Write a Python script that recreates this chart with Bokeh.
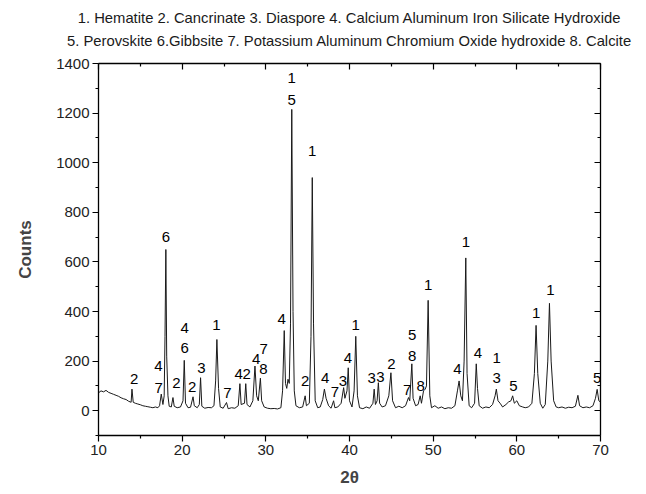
from bokeh.plotting import figure
from bokeh.models import Range1d, LinearAxis, Title, ColumnDataSource, FixedTicker
from bokeh.core.properties import value
from bokeh.embed import file_html
from bokeh.resources import INLINE

# ---- data (2theta, counts) ----
two_theta = [
    10.0, 10.3, 10.6, 10.9, 11.2, 11.5, 11.8, 12.1, 12.4, 12.7, 13.0, 13.3, 13.6, 13.9,
    14.0, 14.15, 14.4, 14.7, 15.0, 15.3, 15.6, 15.9, 16.2, 16.5, 16.8, 17.1, 17.3,
    17.5, 17.7, 17.85, 17.95, 18.05, 18.15, 18.3, 18.45, 18.7, 18.9, 19.05, 19.4, 19.8,
    20.1, 20.25, 20.4, 20.7, 21.0, 21.3, 21.45, 21.8, 22.05, 22.2, 22.35, 22.7, 23.1,
    23.5, 23.8, 24.0, 24.15, 24.35, 24.55, 24.9, 25.3, 25.5, 25.9, 26.3, 26.7, 26.9,
    27.05, 27.45, 27.6, 27.75, 28.1, 28.45, 28.7, 28.9, 29.1, 29.35, 29.5, 29.8, 30.2,
    30.6, 31.0, 31.4, 31.8, 32.0, 32.2, 32.35, 32.5, 32.65, 32.8, 32.95, 33.1, 33.25,
    33.4, 33.6, 34.0, 34.4, 34.7, 34.85, 35.2, 35.4, 35.55, 35.7, 35.9, 36.2, 36.5,
    36.8, 37.0, 37.2, 37.5, 37.8, 38.1, 38.25, 38.6, 39.0, 39.3, 39.45, 39.7, 39.85,
    40.0, 40.3, 40.55, 40.75, 40.95, 41.2, 41.6, 42.0, 42.4, 42.8, 42.95, 43.1, 43.3,
    43.45, 43.6, 43.9, 44.3, 44.7, 44.95, 45.15, 45.5, 45.9, 46.3, 46.7, 47.05, 47.2,
    47.45, 47.6, 47.9, 48.2, 48.45, 48.6, 48.85, 49.05, 49.2, 49.4, 49.6, 49.8, 50.2,
    50.6, 51.0, 51.4, 51.8, 52.2, 52.6, 52.9, 53.1, 53.3, 53.5, 53.7, 53.9, 54.05,
    54.3, 54.6, 54.95, 55.15, 55.3, 55.5, 55.9, 56.3, 56.7, 57.1, 57.4, 57.55, 57.75,
    58.0, 58.3, 58.7, 59.0, 59.3, 59.5, 59.7, 60.0, 60.3, 60.7, 61.0, 61.4, 61.8,
    62.1, 62.3, 62.5, 62.8, 63.1, 63.4, 63.7, 63.9, 64.1, 64.4, 64.7, 65.0, 65.4,
    65.8, 66.2, 66.6, 67.0, 67.3, 67.5, 67.9, 68.3, 68.7, 69.1, 69.4, 69.6, 69.8, 70.0,
]
counts = [
    72, 80, 76, 82, 74, 70, 66, 62, 58, 52, 48, 45, 38, 34,
    87, 34, 30, 27, 24, 20, 18, 16, 14, 12, 15, 12, 20,
    67, 25, 60, 300, 650, 220, 60, 18, 15, 53, 18, 12, 15,
    40, 203, 30, 12, 14, 56, 20, 12, 25, 133, 18, 10, 13,
    12, 20, 120, 287, 90, 15, 10, 33, 8, 12, 10, 20, 109,
    25, 30, 109, 25, 15, 40, 180, 60, 40, 131, 40, 15, 10,
    8, 9, 7, 12, 80, 323, 110, 90, 127, 110, 350, 1215, 400,
    80, 20, 12, 15, 60, 20, 30, 300, 940, 350, 40, 12, 15,
    45, 87, 50, 20, 10, 40, 12, 15, 30, 93, 50, 80, 173,
    40, 15, 80, 300, 60, 12, 8, 15, 10, 30, 87, 25, 40,
    113, 30, 15, 20, 60, 153, 40, 12, 18, 12, 20, 53, 40,
    189, 50, 20, 25, 60, 30, 80, 87, 100, 445, 60, 12, 20,
    10, 15, 8, 12, 10, 20, 80, 120, 60, 40, 200, 616, 150,
    20, 12, 30, 189, 90, 20, 10, 15, 12, 25, 60, 87, 40,
    30, 15, 25, 35, 40, 60, 30, 40, 20, 15, 12, 15, 30,
    150, 344, 150, 30, 10, 25, 200, 433, 200, 40, 15, 12, 15,
    10, 14, 12, 18, 62, 20, 12, 15, 12, 20, 50, 86, 40, 35,
]

# phase labels: position (2theta, counts) and phase number
label_x = [14.25, 17.15, 17.2, 18.05, 19.3, 20.3, 20.3, 21.2, 22.3, 24.1, 25.4, 26.75,
           27.7, 28.85, 29.75, 29.7, 31.9, 33.1, 33.1, 35.55, 34.7, 37.1, 38.25, 39.2,
           39.8, 40.75, 42.65, 43.7, 45.0, 47.5, 47.5, 46.9, 48.5, 49.4, 52.9, 53.9,
           55.35, 57.6, 57.6, 59.6, 62.3, 64.0, 69.6]
label_y = [129, 180, 93, 702, 113, 333, 253, 96, 173, 347, 73, 149,
           149, 207, 249, 167, 371, 1343, 1253, 1049, 120, 131, 77, 120,
           211, 347, 133, 136, 189, 304, 220, 83, 100, 506, 167, 682,
           233, 211, 131, 100, 393, 486, 130]
label_text = ["2", "4", "7", "6", "2", "4", "6", "2", "3", "1", "7", "4",
              "2", "4", "7", "8", "4", "1", "5", "1", "2", "4", "7", "3",
              "4", "1", "3", "3", "2", "5", "8", "7", "8", "1", "4", "1",
              "4", "1", "3", "5", "1", "1", "5"]

title_line1 = "1. Hematite 2. Cancrinate 3. Diaspore 4. Calcium Aluminum Iron Silicate Hydroxide"
title_line2 = "5. Perovskite 6.Gibbsite 7. Potassium Aluminum Chromium Oxide hydroxide 8. Calcite"

x_ticks = [10, 20, 30, 40, 50, 60, 70]
y_ticks = [0, 200, 400, 600, 800, 1000, 1200, 1400]
x_minor = [15, 25, 35, 45, 55, 65]
y_minor = [-100, 100, 300, 500, 700, 900, 1100, 1300]

FONT = "Liberation Sans"

p = figure(width=646, height=494, output_backend="svg", toolbar_location=None,
           x_range=Range1d(10, 70), y_range=Range1d(-100, 1400),
           x_axis_location=None, y_axis_location=None,
           min_border_left=98, min_border_right=46, min_border_top=63, min_border_bottom=59)
p.outline_line_color = None
p.xgrid.visible = False
p.ygrid.visible = False
p.background_fill_color = "white"
p.border_fill_color = "white"

src = ColumnDataSource(dict(x=two_theta, y=counts))
p.line("x", "y", source=src, line_color="#1a1a1a", line_width=1)

lab = ColumnDataSource(dict(x=label_x, y=label_y, t=label_text))
p.text("x", "y", text="t", source=lab, text_align="center", text_baseline="middle",
       text_font=value(FONT), text_font_size="15px", text_color="black")

def style_axis(ax, ticks, minor, outward, labels):
    ax.ticker = FixedTicker(ticks=ticks, minor_ticks=minor)
    ax.axis_line_color = "black"
    ax.axis_line_width = 1.3
    ax.major_tick_line_color = "black"
    ax.minor_tick_line_color = "black"
    ax.major_tick_line_width = 1.2
    ax.minor_tick_line_width = 1.2
    if outward:
        ax.major_tick_out = 6
        ax.major_tick_in = 0
        ax.minor_tick_out = 3
        ax.minor_tick_in = 0
    else:
        ax.major_tick_out = 0
        ax.major_tick_in = 6
        ax.minor_tick_out = 0
        ax.minor_tick_in = 3
    if labels:
        ax.major_label_text_font = FONT
        ax.major_label_text_font_size = "15px"
        ax.major_label_text_color = "#222222"
        ax.major_label_standoff = 3
    else:
        ax.major_label_overrides = {t: "" for t in ticks}
        ax.major_label_standoff = 0

xb = LinearAxis(axis_label="2θ")
style_axis(xb, x_ticks, x_minor, True, True)
xb.axis_label_text_font = FONT
xb.axis_label_text_font_style = "bold"
xb.axis_label_text_font_size = "17px"
xb.axis_label_standoff = 10
p.add_layout(xb, "below")

yl = LinearAxis(axis_label="Counts")
style_axis(yl, y_ticks, y_minor, True, True)
yl.axis_label_text_font = FONT
yl.axis_label_text_font_style = "bold"
yl.axis_label_text_font_size = "17px"
yl.axis_label_standoff = 18
p.add_layout(yl, "left")

xt = LinearAxis()
style_axis(xt, x_ticks, x_minor, False, False)
p.add_layout(xt, "above")

yr = LinearAxis()
style_axis(yr, y_ticks, y_minor, False, False)
p.add_layout(yr, "right")

t2 = Title(text=title_line2, align="center", text_font=FONT, text_font_size="14.8px",
           text_font_style="normal", text_color="#1a1a1a", standoff=26,
           vertical_align="top")
t1 = Title(text=title_line1, align="center", text_font=FONT, text_font_size="14.8px",
           text_font_style="normal", text_color="#1a1a1a", standoff=-12)
p.add_layout(t2, "above")
p.add_layout(t1, "above")

open("out.html", "w").write(file_html(p, INLINE))
